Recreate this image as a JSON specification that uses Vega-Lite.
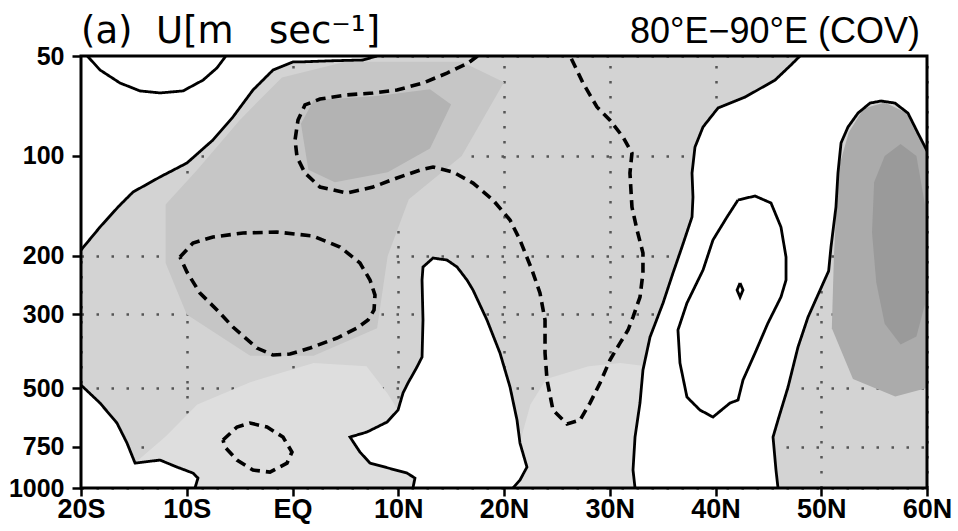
{
  "$schema": "https://vega.github.io/schema/vega-lite/v6.json",
  "autosize": "none",
  "width": 846,
  "height": 432,
  "padding": {"left": 81, "top": 56, "right": 31, "bottom": 43},
  "background": "white",
  "config": {
    "view": {"fill": "#d3d3d3", "stroke": null},
    "axis": {"labelFont": "Liberation Sans", "labelFontSize": 25, "labelFontWeight": "bold", "labelColor": "black", "tickColor": "black", "tickWidth": 2.5, "domain": false, "grid": true, "gridDash": [2.5, 12.5], "gridColor": "#555555", "gridWidth": 2.5, "zindex": 1, "title": null}
  },
  "datasets": {
    "regions": [
      {"r":"w1","s":"clear","i":0,"lat":-20,"p":50},{"r":"w1","s":"clear","i":1,"lat":7.99,"p":50},{"r":"w1","s":"clear","i":2,"lat":6.67,"p":51.4},{"r":"w1","s":"clear","i":3,"lat":3.55,"p":51.7},{"r":"w1","s":"clear","i":4,"lat":0.71,"p":52.1},{"r":"w1","s":"clear","i":5,"lat":0.05,"p":52.1},{"r":"w1","s":"clear","i":6,"lat":-1.84,"p":55.1},{"r":"w1","s":"clear","i":7,"lat":-3.74,"p":63.3},{"r":"w1","s":"clear","i":8,"lat":-5.63,"p":76.3},{"r":"w1","s":"clear","i":9,"lat":-7.52,"p":89.5},{"r":"w1","s":"clear","i":10,"lat":-9.98,"p":105},{"r":"w1","s":"clear","i":11,"lat":-12.53,"p":115.7},{"r":"w1","s":"clear","i":12,"lat":-15.08,"p":128.4},{"r":"w1","s":"clear","i":13,"lat":-16.5,"p":142.5},{"r":"w1","s":"clear","i":14,"lat":-18.2,"p":163.7},{"r":"w1","s":"clear","i":15,"lat":-20,"p":192},
      {"r":"w2","s":"clear","i":0,"lat":-20,"p":489.7},{"r":"w2","s":"clear","i":1,"lat":-18.2,"p":554.8},{"r":"w2","s":"clear","i":2,"lat":-16.6,"p":637.4},{"r":"w2","s":"clear","i":3,"lat":-15.65,"p":732.2},{"r":"w2","s":"clear","i":4,"lat":-14.89,"p":841.3},{"r":"w2","s":"clear","i":5,"lat":-12.53,"p":824},{"r":"w2","s":"clear","i":6,"lat":-10.92,"p":865},{"r":"w2","s":"clear","i":7,"lat":-9.41,"p":901.7},{"r":"w2","s":"clear","i":8,"lat":-8.94,"p":933.5},{"r":"w2","s":"clear","i":9,"lat":-9.22,"p":1000},{"r":"w2","s":"clear","i":10,"lat":-20,"p":1000},
      {"r":"w3","s":"clear","i":0,"lat":11.39,"p":1000},{"r":"w3","s":"clear","i":1,"lat":11.58,"p":933.5},{"r":"w3","s":"clear","i":2,"lat":10.83,"p":901.7},{"r":"w3","s":"clear","i":3,"lat":7.33,"p":841.3},{"r":"w3","s":"clear","i":4,"lat":6.38,"p":779.5},{"r":"w3","s":"clear","i":5,"lat":5.44,"p":702.4},{"r":"w3","s":"clear","i":6,"lat":7.04,"p":678.4},{"r":"w3","s":"clear","i":7,"lat":8.94,"p":633},{"r":"w3","s":"clear","i":8,"lat":9.98,"p":582.4},{"r":"w3","s":"clear","i":9,"lat":10.45,"p":517.6},{"r":"w3","s":"clear","i":10,"lat":10.92,"p":483},{"r":"w3","s":"clear","i":11,"lat":11.77,"p":432.2},{"r":"w3","s":"clear","i":12,"lat":12.25,"p":403.3},{"r":"w3","s":"clear","i":13,"lat":12.34,"p":312},{"r":"w3","s":"clear","i":14,"lat":12.25,"p":236.4},{"r":"w3","s":"clear","i":15,"lat":12.34,"p":216},{"r":"w3","s":"clear","i":16,"lat":13.29,"p":203},{"r":"w3","s":"clear","i":17,"lat":14.61,"p":205.8},{"r":"w3","s":"clear","i":18,"lat":15.56,"p":216},{"r":"w3","s":"clear","i":19,"lat":16.5,"p":236.4},{"r":"w3","s":"clear","i":20,"lat":17.07,"p":253.4},{"r":"w3","s":"clear","i":21,"lat":18.39,"p":312},{"r":"w3","s":"clear","i":22,"lat":19.62,"p":392.2},{"r":"w3","s":"clear","i":23,"lat":20.57,"p":496.5},{"r":"w3","s":"clear","i":24,"lat":21.23,"p":624.3},{"r":"w3","s":"clear","i":25,"lat":21.51,"p":732.2},{"r":"w3","s":"clear","i":26,"lat":22.17,"p":865},{"r":"w3","s":"clear","i":27,"lat":21.51,"p":946.5},{"r":"w3","s":"clear","i":28,"lat":20.85,"p":1000},
      {"r":"w4","s":"clear","i":0,"lat":47.99,"p":50},{"r":"w4","s":"clear","i":1,"lat":47.14,"p":53.2},{"r":"w4","s":"clear","i":2,"lat":45.63,"p":59.1},{"r":"w4","s":"clear","i":3,"lat":42.79,"p":66.5},{"r":"w4","s":"clear","i":4,"lat":40.24,"p":71.7},{"r":"w4","s":"clear","i":5,"lat":38.82,"p":81.8},{"r":"w4","s":"clear","i":6,"lat":38.06,"p":94},{"r":"w4","s":"clear","i":7,"lat":37.78,"p":112.6},{"r":"w4","s":"clear","i":8,"lat":37.87,"p":133},{"r":"w4","s":"clear","i":9,"lat":37.78,"p":152.7},{"r":"w4","s":"clear","i":10,"lat":36.83,"p":188},{"r":"w4","s":"clear","i":11,"lat":35.98,"p":225.2},{"r":"w4","s":"clear","i":12,"lat":35.04,"p":277.3},{"r":"w4","s":"clear","i":13,"lat":33.81,"p":351},{"r":"w4","s":"clear","i":14,"lat":33.14,"p":441.3},{"r":"w4","s":"clear","i":15,"lat":32.86,"p":554.8},{"r":"w4","s":"clear","i":16,"lat":32.39,"p":702.4},{"r":"w4","s":"clear","i":17,"lat":32.2,"p":883.1},{"r":"w4","s":"clear","i":18,"lat":32.39,"p":1000},{"r":"w4","s":"clear","i":19,"lat":45.91,"p":1000},{"r":"w4","s":"clear","i":20,"lat":45.72,"p":883.1},{"r":"w4","s":"clear","i":21,"lat":45.44,"p":702.4},{"r":"w4","s":"clear","i":22,"lat":45.91,"p":624.3},{"r":"w4","s":"clear","i":23,"lat":46.86,"p":496.5},{"r":"w4","s":"clear","i":24,"lat":47.8,"p":376.3},{"r":"w4","s":"clear","i":25,"lat":48.75,"p":305.6},{"r":"w4","s":"clear","i":26,"lat":50.7,"p":222},{"r":"w4","s":"clear","i":27,"lat":50.92,"p":188},{"r":"w4","s":"clear","i":28,"lat":51.39,"p":142.5},{"r":"w4","s":"clear","i":29,"lat":51.58,"p":112.6},{"r":"w4","s":"clear","i":30,"lat":51.87,"p":91.4},{"r":"w4","s":"clear","i":31,"lat":52.53,"p":81.8},{"r":"w4","s":"clear","i":32,"lat":53.47,"p":74.3},{"r":"w4","s":"clear","i":33,"lat":54.61,"p":69.3},{"r":"w4","s":"clear","i":34,"lat":55.65,"p":68.3},{"r":"w4","s":"clear","i":35,"lat":56.97,"p":69.3},{"r":"w4","s":"clear","i":36,"lat":58.2,"p":74.3},{"r":"w4","s":"clear","i":37,"lat":59.14,"p":85.3},{"r":"w4","s":"clear","i":38,"lat":60,"p":96.5},{"r":"w4","s":"clear","i":39,"lat":60,"p":50},
      {"r":"m1","s":"mid","i":0,"lat":-12,"p":140},{"r":"m1","s":"mid","i":1,"lat":-9,"p":110},{"r":"m1","s":"mid","i":2,"lat":-5,"p":78},{"r":"m1","s":"mid","i":3,"lat":-1,"p":58},{"r":"m1","s":"mid","i":4,"lat":5,"p":52},{"r":"m1","s":"mid","i":5,"lat":16,"p":52},{"r":"m1","s":"mid","i":6,"lat":20,"p":60},{"r":"m1","s":"mid","i":7,"lat":16,"p":100},{"r":"m1","s":"mid","i":8,"lat":11,"p":135},{"r":"m1","s":"mid","i":9,"lat":9,"p":200},{"r":"m1","s":"mid","i":10,"lat":8,"p":330},{"r":"m1","s":"mid","i":11,"lat":2,"p":400},{"r":"m1","s":"mid","i":12,"lat":-4,"p":400},{"r":"m1","s":"mid","i":13,"lat":-10,"p":300},{"r":"m1","s":"mid","i":14,"lat":-12,"p":210},
      {"r":"m2","s":"dark2","i":0,"lat":0.8,"p":80},{"r":"m2","s":"dark2","i":1,"lat":2,"p":68},{"r":"m2","s":"dark2","i":2,"lat":8,"p":66},{"r":"m2","s":"dark2","i":3,"lat":13,"p":63},{"r":"m2","s":"dark2","i":4,"lat":15,"p":70},{"r":"m2","s":"dark2","i":5,"lat":13,"p":95},{"r":"m2","s":"dark2","i":6,"lat":9,"p":112},{"r":"m2","s":"dark2","i":7,"lat":4,"p":120},{"r":"m2","s":"dark2","i":8,"lat":1.5,"p":110},
      {"r":"d1","s":"dark","i":0,"lat":51.6,"p":110},{"r":"d1","s":"dark","i":1,"lat":52.6,"p":85},{"r":"d1","s":"dark","i":2,"lat":54,"p":72},{"r":"d1","s":"dark","i":3,"lat":56,"p":69},{"r":"d1","s":"dark","i":4,"lat":58,"p":74},{"r":"d1","s":"dark","i":5,"lat":59.5,"p":85},{"r":"d1","s":"dark","i":6,"lat":60,"p":97},{"r":"d1","s":"dark","i":7,"lat":60,"p":500},{"r":"d1","s":"dark","i":8,"lat":57,"p":530},{"r":"d1","s":"dark","i":9,"lat":53,"p":470},{"r":"d1","s":"dark","i":10,"lat":51,"p":330},{"r":"d1","s":"dark","i":11,"lat":51.2,"p":200},
      {"r":"d2","s":"darkest","i":0,"lat":55,"p":120},{"r":"d2","s":"darkest","i":1,"lat":56,"p":100},{"r":"d2","s":"darkest","i":2,"lat":57.5,"p":92},{"r":"d2","s":"darkest","i":3,"lat":59,"p":100},{"r":"d2","s":"darkest","i":4,"lat":59.8,"p":140},{"r":"d2","s":"darkest","i":5,"lat":59.8,"p":280},{"r":"d2","s":"darkest","i":6,"lat":59,"p":350},{"r":"d2","s":"darkest","i":7,"lat":57.5,"p":370},{"r":"d2","s":"darkest","i":8,"lat":56,"p":320},{"r":"d2","s":"darkest","i":9,"lat":55.2,"p":240},{"r":"d2","s":"darkest","i":10,"lat":54.8,"p":170},
      {"r":"l1","s":"light","i":0,"lat":-14.9,"p":841},{"r":"l1","s":"light","i":1,"lat":-12,"p":700},{"r":"l1","s":"light","i":2,"lat":-9,"p":560},{"r":"l1","s":"light","i":3,"lat":-4,"p":480},{"r":"l1","s":"light","i":4,"lat":2,"p":420},{"r":"l1","s":"light","i":5,"lat":7,"p":430},{"r":"l1","s":"light","i":6,"lat":9,"p":520},{"r":"l1","s":"light","i":7,"lat":10.5,"p":620},{"r":"l1","s":"light","i":8,"lat":11.4,"p":1000},{"r":"l1","s":"light","i":9,"lat":-9.2,"p":1000},{"r":"l1","s":"light","i":10,"lat":-12.5,"p":824},
      {"r":"l2","s":"light","i":0,"lat":20.8,"p":1000},{"r":"l2","s":"light","i":1,"lat":22,"p":860},{"r":"l2","s":"light","i":2,"lat":21.5,"p":730},{"r":"l2","s":"light","i":3,"lat":22.5,"p":560},{"r":"l2","s":"light","i":4,"lat":24,"p":470},{"r":"l2","s":"light","i":5,"lat":28,"p":430},{"r":"l2","s":"light","i":6,"lat":31,"p":420},{"r":"l2","s":"light","i":7,"lat":33.5,"p":430},{"r":"l2","s":"light","i":8,"lat":32.4,"p":1000}
    ],
    "contours": [
      {"c":"c1","k":"pos","i":0,"lat":-19.4,"p":50},{"c":"c1","k":"pos","i":1,"lat":-18.2,"p":55.1},{"c":"c1","k":"pos","i":2,"lat":-16.31,"p":60.3},{"c":"c1","k":"pos","i":3,"lat":-14.42,"p":63.7},{"c":"c1","k":"pos","i":4,"lat":-12.53,"p":64.6},{"c":"c1","k":"pos","i":5,"lat":-10.35,"p":63.7},{"c":"c1","k":"pos","i":6,"lat":-8.46,"p":59.1},{"c":"c1","k":"pos","i":7,"lat":-7.14,"p":54.3},{"c":"c1","k":"pos","i":8,"lat":-6.3,"p":50},
      {"c":"c2","k":"pos","i":0,"lat":-20,"p":192},{"c":"c2","k":"pos","i":1,"lat":-18.2,"p":163.7},{"c":"c2","k":"pos","i":2,"lat":-16.5,"p":142.5},{"c":"c2","k":"pos","i":3,"lat":-15.08,"p":128.4},{"c":"c2","k":"pos","i":4,"lat":-12.53,"p":115.7},{"c":"c2","k":"pos","i":5,"lat":-9.98,"p":105},{"c":"c2","k":"pos","i":6,"lat":-7.52,"p":89.5},{"c":"c2","k":"pos","i":7,"lat":-5.63,"p":76.3},{"c":"c2","k":"pos","i":8,"lat":-3.74,"p":63.3},{"c":"c2","k":"pos","i":9,"lat":-1.84,"p":55.1},{"c":"c2","k":"pos","i":10,"lat":0.05,"p":52.1},{"c":"c2","k":"pos","i":11,"lat":0.71,"p":52.1},{"c":"c2","k":"pos","i":12,"lat":3.55,"p":51.7},{"c":"c2","k":"pos","i":13,"lat":6.67,"p":51.4},{"c":"c2","k":"pos","i":14,"lat":7.99,"p":50},
      {"c":"c3","k":"pos","i":0,"lat":-20,"p":489.7},{"c":"c3","k":"pos","i":1,"lat":-18.2,"p":554.8},{"c":"c3","k":"pos","i":2,"lat":-16.6,"p":637.4},{"c":"c3","k":"pos","i":3,"lat":-15.65,"p":732.2},{"c":"c3","k":"pos","i":4,"lat":-14.89,"p":841.3},{"c":"c3","k":"pos","i":5,"lat":-12.53,"p":824},{"c":"c3","k":"pos","i":6,"lat":-10.92,"p":865},{"c":"c3","k":"pos","i":7,"lat":-9.41,"p":901.7},{"c":"c3","k":"pos","i":8,"lat":-8.94,"p":933.5},{"c":"c3","k":"pos","i":9,"lat":-9.22,"p":1000},
      {"c":"c4","k":"neg","i":0,"lat":17.5,"p":50},{"c":"c4","k":"neg","i":1,"lat":16.6,"p":52.5},{"c":"c4","k":"neg","i":2,"lat":14.61,"p":56.3},{"c":"c4","k":"neg","i":3,"lat":12.34,"p":60.3},{"c":"c4","k":"neg","i":4,"lat":9.88,"p":63.3},{"c":"c4","k":"neg","i":5,"lat":7.61,"p":64.6},{"c":"c4","k":"neg","i":6,"lat":5.15,"p":65.5},{"c":"c4","k":"neg","i":7,"lat":2.6,"p":67.4},{"c":"c4","k":"neg","i":8,"lat":1.18,"p":70.2},{"c":"c4","k":"neg","i":9,"lat":0.52,"p":78},{"c":"c4","k":"neg","i":10,"lat":0.24,"p":89.5},{"c":"c4","k":"neg","i":11,"lat":0.43,"p":100.8},{"c":"c4","k":"neg","i":12,"lat":1.18,"p":112.6},{"c":"c4","k":"neg","i":13,"lat":2.6,"p":124},{"c":"c4","k":"neg","i":14,"lat":5.15,"p":129.3},{"c":"c4","k":"neg","i":15,"lat":7.61,"p":124},{"c":"c4","k":"neg","i":16,"lat":9.88,"p":116.5},{"c":"c4","k":"neg","i":17,"lat":12.06,"p":110.3},{"c":"c4","k":"neg","i":18,"lat":13.29,"p":108},{"c":"c4","k":"neg","i":19,"lat":15.18,"p":111.8},{"c":"c4","k":"neg","i":20,"lat":17.07,"p":120.7},{"c":"c4","k":"neg","i":21,"lat":18.96,"p":135.7},{"c":"c4","k":"neg","i":22,"lat":20.57,"p":155.9},{"c":"c4","k":"neg","i":23,"lat":21.51,"p":179.1},{"c":"c4","k":"neg","i":24,"lat":22.65,"p":220.6},{"c":"c4","k":"neg","i":25,"lat":23.4,"p":258.7},{"c":"c4","k":"neg","i":26,"lat":23.88,"p":312},{"c":"c4","k":"neg","i":27,"lat":23.88,"p":392.2},{"c":"c4","k":"neg","i":28,"lat":24.07,"p":473},{"c":"c4","k":"neg","i":29,"lat":24.63,"p":582.4},{"c":"c4","k":"neg","i":30,"lat":25.96,"p":641.8},{"c":"c4","k":"neg","i":31,"lat":27.19,"p":624.3},{"c":"c4","k":"neg","i":32,"lat":28.13,"p":554.8},{"c":"c4","k":"neg","i":33,"lat":29.08,"p":483},{"c":"c4","k":"neg","i":34,"lat":30.02,"p":411.7},{"c":"c4","k":"neg","i":35,"lat":30.97,"p":366},{"c":"c4","k":"neg","i":36,"lat":31.73,"p":334.4},{"c":"c4","k":"neg","i":37,"lat":32.2,"p":305.6},{"c":"c4","k":"neg","i":38,"lat":32.86,"p":266},{"c":"c4","k":"neg","i":39,"lat":33.14,"p":225.2},{"c":"c4","k":"neg","i":40,"lat":33.14,"p":196},{"c":"c4","k":"neg","i":41,"lat":32.58,"p":167.1},{"c":"c4","k":"neg","i":42,"lat":32.1,"p":142.5},{"c":"c4","k":"neg","i":43,"lat":31.91,"p":112.6},{"c":"c4","k":"neg","i":44,"lat":32.1,"p":98},{"c":"c4","k":"neg","i":45,"lat":31.25,"p":87.7},{"c":"c4","k":"neg","i":46,"lat":30.02,"p":78},{"c":"c4","k":"neg","i":47,"lat":28.79,"p":71.2},{"c":"c4","k":"neg","i":48,"lat":27.47,"p":60.3},{"c":"c4","k":"neg","i":49,"lat":26.52,"p":52.1},{"c":"c4","k":"neg","i":50,"lat":26.24,"p":50},
      {"c":"c5","k":"neg","i":0,"lat":-10.64,"p":201.6},{"c":"c5","k":"neg","i":1,"lat":-9.41,"p":182.9},{"c":"c5","k":"neg","i":2,"lat":-7.52,"p":175.4},{"c":"c5","k":"neg","i":3,"lat":-4.68,"p":170.6},{"c":"c5","k":"neg","i":4,"lat":-1.47,"p":169.5},{"c":"c5","k":"neg","i":5,"lat":1.94,"p":174.2},{"c":"c5","k":"neg","i":6,"lat":4.49,"p":188},{"c":"c5","k":"neg","i":7,"lat":6.38,"p":210.1},{"c":"c5","k":"neg","i":8,"lat":7.33,"p":236.4},{"c":"c5","k":"neg","i":9,"lat":7.8,"p":262.4},{"c":"c5","k":"neg","i":10,"lat":7.71,"p":291.1},{"c":"c5","k":"neg","i":11,"lat":7.14,"p":312},{"c":"c5","k":"neg","i":12,"lat":6.1,"p":329.8},{"c":"c5","k":"neg","i":13,"lat":4.21,"p":353.5},{"c":"c5","k":"neg","i":14,"lat":1.65,"p":378.9},{"c":"c5","k":"neg","i":15,"lat":-0.24,"p":395},{"c":"c5","k":"neg","i":16,"lat":-1.84,"p":397.7},{"c":"c5","k":"neg","i":17,"lat":-3.36,"p":378.9},{"c":"c5","k":"neg","i":18,"lat":-5.63,"p":327.5},{"c":"c5","k":"neg","i":19,"lat":-7.14,"p":291.1},{"c":"c5","k":"neg","i":20,"lat":-8.75,"p":258.7},{"c":"c5","k":"neg","i":21,"lat":-9.98,"p":223.7},{"c":"c5","k":"neg","i":22,"lat":-10.64,"p":201.6},
      {"c":"c6","k":"neg","i":0,"lat":-6.57,"p":717.1},{"c":"c6","k":"neg","i":1,"lat":-5.25,"p":655.3},{"c":"c6","k":"neg","i":2,"lat":-4.02,"p":637.4},{"c":"c6","k":"neg","i":3,"lat":-2.41,"p":655.3},{"c":"c6","k":"neg","i":4,"lat":-0.9,"p":702.4},{"c":"c6","k":"neg","i":5,"lat":-0.05,"p":779.5},{"c":"c6","k":"neg","i":6,"lat":-0.52,"p":841.3},{"c":"c6","k":"neg","i":7,"lat":-2.13,"p":895.5},{"c":"c6","k":"neg","i":8,"lat":-3.74,"p":883.1},{"c":"c6","k":"neg","i":9,"lat":-5.25,"p":824},{"c":"c6","k":"neg","i":10,"lat":-6.38,"p":752.8},{"c":"c6","k":"neg","i":11,"lat":-6.57,"p":717.1},
      {"c":"c7","k":"pos","i":0,"lat":11.39,"p":1000},{"c":"c7","k":"pos","i":1,"lat":11.58,"p":933.5},{"c":"c7","k":"pos","i":2,"lat":10.83,"p":901.7},{"c":"c7","k":"pos","i":3,"lat":7.33,"p":841.3},{"c":"c7","k":"pos","i":4,"lat":6.38,"p":779.5},{"c":"c7","k":"pos","i":5,"lat":5.44,"p":702.4},{"c":"c7","k":"pos","i":6,"lat":7.04,"p":678.4},{"c":"c7","k":"pos","i":7,"lat":8.94,"p":633},{"c":"c7","k":"pos","i":8,"lat":9.98,"p":582.4},{"c":"c7","k":"pos","i":9,"lat":10.45,"p":517.6},{"c":"c7","k":"pos","i":10,"lat":10.92,"p":483},{"c":"c7","k":"pos","i":11,"lat":11.77,"p":432.2},{"c":"c7","k":"pos","i":12,"lat":12.25,"p":403.3},{"c":"c7","k":"pos","i":13,"lat":12.34,"p":312},{"c":"c7","k":"pos","i":14,"lat":12.25,"p":236.4},{"c":"c7","k":"pos","i":15,"lat":12.34,"p":216},{"c":"c7","k":"pos","i":16,"lat":13.29,"p":203},{"c":"c7","k":"pos","i":17,"lat":14.61,"p":205.8},{"c":"c7","k":"pos","i":18,"lat":15.56,"p":216},{"c":"c7","k":"pos","i":19,"lat":16.5,"p":236.4},{"c":"c7","k":"pos","i":20,"lat":17.07,"p":253.4},{"c":"c7","k":"pos","i":21,"lat":18.39,"p":312},{"c":"c7","k":"pos","i":22,"lat":19.62,"p":392.2},{"c":"c7","k":"pos","i":23,"lat":20.57,"p":496.5},{"c":"c7","k":"pos","i":24,"lat":21.23,"p":624.3},{"c":"c7","k":"pos","i":25,"lat":21.51,"p":732.2},{"c":"c7","k":"pos","i":26,"lat":22.17,"p":865},{"c":"c7","k":"pos","i":27,"lat":21.51,"p":946.5},{"c":"c7","k":"pos","i":28,"lat":20.85,"p":1000},
      {"c":"c8","k":"pos","i":0,"lat":47.99,"p":50},{"c":"c8","k":"pos","i":1,"lat":47.14,"p":53.2},{"c":"c8","k":"pos","i":2,"lat":45.63,"p":59.1},{"c":"c8","k":"pos","i":3,"lat":42.79,"p":66.5},{"c":"c8","k":"pos","i":4,"lat":40.24,"p":71.7},{"c":"c8","k":"pos","i":5,"lat":38.82,"p":81.8},{"c":"c8","k":"pos","i":6,"lat":38.06,"p":94},{"c":"c8","k":"pos","i":7,"lat":37.78,"p":112.6},{"c":"c8","k":"pos","i":8,"lat":37.87,"p":133},{"c":"c8","k":"pos","i":9,"lat":37.78,"p":152.7},{"c":"c8","k":"pos","i":10,"lat":36.83,"p":188},{"c":"c8","k":"pos","i":11,"lat":35.98,"p":225.2},{"c":"c8","k":"pos","i":12,"lat":35.04,"p":277.3},{"c":"c8","k":"pos","i":13,"lat":33.81,"p":351},{"c":"c8","k":"pos","i":14,"lat":33.14,"p":441.3},{"c":"c8","k":"pos","i":15,"lat":32.86,"p":554.8},{"c":"c8","k":"pos","i":16,"lat":32.39,"p":702.4},{"c":"c8","k":"pos","i":17,"lat":32.2,"p":883.1},{"c":"c8","k":"pos","i":18,"lat":32.39,"p":1000},
      {"c":"c9","k":"pos","i":0,"lat":60,"p":96.5},{"c":"c9","k":"pos","i":1,"lat":59.14,"p":85.3},{"c":"c9","k":"pos","i":2,"lat":58.2,"p":74.3},{"c":"c9","k":"pos","i":3,"lat":56.97,"p":69.3},{"c":"c9","k":"pos","i":4,"lat":55.65,"p":68.3},{"c":"c9","k":"pos","i":5,"lat":54.61,"p":69.3},{"c":"c9","k":"pos","i":6,"lat":53.47,"p":74.3},{"c":"c9","k":"pos","i":7,"lat":52.53,"p":81.8},{"c":"c9","k":"pos","i":8,"lat":51.87,"p":91.4},{"c":"c9","k":"pos","i":9,"lat":51.58,"p":112.6},{"c":"c9","k":"pos","i":10,"lat":51.39,"p":142.5},{"c":"c9","k":"pos","i":11,"lat":50.92,"p":188},{"c":"c9","k":"pos","i":12,"lat":50.7,"p":222},{"c":"c9","k":"pos","i":13,"lat":48.75,"p":305.6},{"c":"c9","k":"pos","i":14,"lat":47.8,"p":376.3},{"c":"c9","k":"pos","i":15,"lat":46.86,"p":496.5},{"c":"c9","k":"pos","i":16,"lat":45.91,"p":624.3},{"c":"c9","k":"pos","i":17,"lat":45.44,"p":702.4},{"c":"c9","k":"pos","i":18,"lat":45.72,"p":883.1},{"c":"c9","k":"pos","i":19,"lat":45.91,"p":1000},
      {"c":"c10","k":"pos","i":0,"lat":42.13,"p":135.7},{"c":"c10","k":"pos","i":1,"lat":43.74,"p":132},{"c":"c10","k":"pos","i":2,"lat":45.25,"p":138.6},{"c":"c10","k":"pos","i":3,"lat":46.19,"p":163.7},{"c":"c10","k":"pos","i":4,"lat":46.67,"p":201.6},{"c":"c10","k":"pos","i":5,"lat":46.67,"p":236.4},{"c":"c10","k":"pos","i":6,"lat":46.19,"p":266},{"c":"c10","k":"pos","i":7,"lat":44.96,"p":318.6},{"c":"c10","k":"pos","i":8,"lat":43.74,"p":392.2},{"c":"c10","k":"pos","i":9,"lat":42.6,"p":473},{"c":"c10","k":"pos","i":10,"lat":42.13,"p":543.4},{"c":"c10","k":"pos","i":11,"lat":41.37,"p":554.8},{"c":"c10","k":"pos","i":12,"lat":39.76,"p":611.4},{"c":"c10","k":"pos","i":13,"lat":38.53,"p":582.4},{"c":"c10","k":"pos","i":14,"lat":37.3,"p":532.2},{"c":"c10","k":"pos","i":15,"lat":36.64,"p":420.4},{"c":"c10","k":"pos","i":16,"lat":36.45,"p":334.4},{"c":"c10","k":"pos","i":17,"lat":37.3,"p":277.3},{"c":"c10","k":"pos","i":18,"lat":38.82,"p":220.6},{"c":"c10","k":"pos","i":19,"lat":39.76,"p":179.1},{"c":"c10","k":"pos","i":20,"lat":41.09,"p":152.7},{"c":"c10","k":"pos","i":21,"lat":42.13,"p":135.7},
      {"c":"c11","k":"pos","i":0,"lat":42.32,"p":241.4},{"c":"c11","k":"pos","i":1,"lat":42.6,"p":253.4},{"c":"c11","k":"pos","i":2,"lat":42.32,"p":266},{"c":"c11","k":"pos","i":3,"lat":42.04,"p":253.4},{"c":"c11","k":"pos","i":4,"lat":42.32,"p":241.4}
    ]
  },
  "encoding": {
    "x": {"field": "lat", "type": "quantitative", "scale": {"domain": [-20, 60], "nice": false, "zero": false},
          "axis": {"values": [-20, -10, 0, 10, 20, 30, 40, 50, 60], "labelExpr": "datum.value == 0 ? 'EQ' : (datum.value < 0 ? (-datum.value) + 'S' : datum.value + 'N')", "labelFontSize": 27, "tickSize": 8, "labelPadding": 0, "labelOverlap": false, "labelFlush": false, "labelBound": false}},
    "y": {"field": "p", "type": "quantitative", "scale": {"type": "log", "domain": [50, 1000], "reverse": true, "nice": false, "zero": false},
          "axis": {"values": [50, 100, 200, 300, 500, 750, 1000], "format": "d", "tickSize": 9, "labelPadding": 8, "labelOverlap": false, "labelFlush": false}}
  },
  "layer": [
    {
      "data": {"name": "regions"},
      "transform": [{"filter": "datum.s != 'clear'"}],
      "mark": {"type": "line", "strokeWidth": 0, "strokeOpacity": 0, "clip": true},
      "encoding": {
        "fill": {"field": "s", "type": "nominal", "scale": {"domain": ["light", "mid", "dark2", "dark", "darkest"], "range": ["#dedede", "#c6c6c6", "#b3b3b3", "#ababab", "#9a9a9a"]}, "legend": null},
        "detail": {"field": "r"},
        "order": {"field": "i", "type": "quantitative"}
      }
    },
    {
      "data": {"name": "regions"},
      "transform": [{"filter": "datum.s == 'clear'"}],
      "mark": {"type": "line", "fill": "white", "strokeWidth": 0, "strokeOpacity": 0, "clip": true},
      "encoding": {
        "detail": {"field": "r"},
        "order": {"field": "i", "type": "quantitative"}
      }
    },
    {
      "data": {"name": "contours"},
      "mark": {"type": "line", "color": "black", "clip": true},
      "encoding": {
        "detail": {"field": "c"},
        "order": {"field": "i", "type": "quantitative"},
        "strokeDash": {"field": "k", "type": "nominal", "scale": {"domain": ["pos", "neg"], "range": [[1, 0], [10, 6]]}, "legend": null},
        "strokeWidth": {"field": "k", "type": "nominal", "scale": {"domain": ["pos", "neg"], "range": [2.8, 3.6]}, "legend": null}
      }
    },
    {
      "data": {"values": [{"x0": -20, "x1": 60, "y0": 50, "y1": 1000}]},
      "mark": {"type": "rect", "fill": null, "fillOpacity": 0, "stroke": "black", "strokeWidth": 3, "clip": false},
      "encoding": {
        "x": {"field": "x0", "type": "quantitative"},
        "x2": {"field": "x1"},
        "y": {"field": "y0", "type": "quantitative"},
        "y2": {"field": "y1"}
      }
    },
    {
      "data": {"values": [{"t": "(a)\u00a0\u00a0U[m\u00a0\u00a0\u00a0sec⁻¹]", "lat": -20, "p": 50}]},
      "mark": {"type": "text", "align": "left", "baseline": "alphabetic", "dx": 0, "dy": -13, "font": "DejaVu Sans", "fontSize": 37, "color": "black", "clip": false},
      "encoding": {"text": {"field": "t"}}
    },
    {
      "data": {"values": [{"t": "80°E−90°E (COV)", "lat": 60, "p": 50}]},
      "mark": {"type": "text", "align": "right", "baseline": "alphabetic", "dx": -7, "dy": -13, "font": "Liberation Sans", "fontSize": 36, "color": "black", "clip": false},
      "encoding": {"text": {"field": "t"}}
    }
  ]
}
